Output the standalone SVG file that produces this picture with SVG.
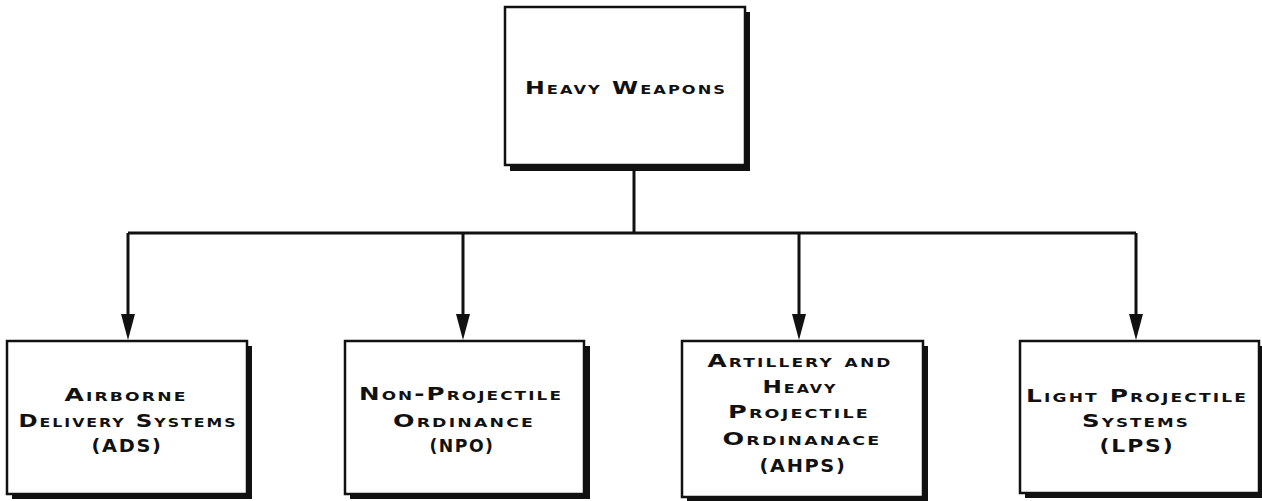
<svg xmlns="http://www.w3.org/2000/svg" width="1262" height="501" viewBox="0 0 1262 501">
<style>
.box{fill:#fff;stroke:#111;stroke-width:2.5}
.sh{fill:#111}
.t{font-family:"DejaVu Sans","Liberation Sans",sans-serif;font-weight:bold;font-variant:small-caps;font-size:17.5px;letter-spacing:1.5px;text-anchor:middle;fill:#111}
.c{stroke:#111;stroke-width:3;fill:none}
.ah{fill:#111}
</style>
<g id="connectors">
<path class="c" d="M634,170 V233"/>
<path class="c" d="M128,233 H1136"/>
<path class="c" d="M128,233 V320"/>
<path class="c" d="M463,233 V320"/>
<path class="c" d="M799,233 V320"/>
<path class="c" d="M1136,233 V320"/>
<path class="ah" d="M121,314 L135,314 L128,340 Z"/>
<path class="ah" d="M456,314 L470,314 L463,340 Z"/>
<path class="ah" d="M792,314 L806,314 L799,340 Z"/>
<path class="ah" d="M1129,314 L1143,314 L1136,340 Z"/>
</g>
<g id="heavy-weapons">
<rect class="sh" x="510" y="12" width="240" height="159"/>
<rect class="box" x="505" y="7" width="240" height="158"/>
<text class="t" x="626" y="94" textLength="202" lengthAdjust="spacingAndGlyphs">Heavy Weapons</text>
</g>
<g id="ads">
<rect class="sh" x="12" y="346" width="240" height="153"/>
<rect class="box" x="7" y="341" width="240" height="153"/>
<text class="t" x="126" y="401" textLength="123" lengthAdjust="spacingAndGlyphs">Airborne</text>
<text class="t" x="128" y="427" textLength="219" lengthAdjust="spacingAndGlyphs">Delivery Systems</text>
<text class="t" x="127" y="452" textLength="71" lengthAdjust="spacingAndGlyphs">(ADS)</text>
</g>
<g id="npo">
<rect class="sh" x="350" y="346" width="240" height="153"/>
<rect class="box" x="345" y="341" width="239" height="153"/>
<text class="t" x="461" y="400" textLength="204" lengthAdjust="spacingAndGlyphs">Non-Projectile</text>
<text class="t" x="464" y="427" textLength="142" lengthAdjust="spacingAndGlyphs">Ordinance</text>
<text class="t" x="462" y="452" textLength="65" lengthAdjust="spacingAndGlyphs">(NPO)</text>
</g>
<g id="ahps">
<rect class="sh" x="687" y="346" width="241" height="155"/>
<rect class="box" x="682" y="341" width="241" height="156"/>
<text class="t" x="800" y="367" textLength="185" lengthAdjust="spacingAndGlyphs">Artillery and</text>
<text class="t" x="800" y="393" textLength="75" lengthAdjust="spacingAndGlyphs">Heavy</text>
<text class="t" x="799" y="418" textLength="142" lengthAdjust="spacingAndGlyphs">Projectile</text>
<text class="t" x="802" y="445" textLength="159" lengthAdjust="spacingAndGlyphs">Ordinanace</text>
<text class="t" x="803" y="472" textLength="87" lengthAdjust="spacingAndGlyphs">(AHPS)</text>
</g>
<g id="lps">
<rect class="sh" x="1025" y="346" width="237" height="152"/>
<rect class="box" x="1020" y="341" width="239" height="152"/>
<text class="t" x="1137" y="402" textLength="222" lengthAdjust="spacingAndGlyphs">Light Projectile</text>
<text class="t" x="1136" y="427" textLength="108" lengthAdjust="spacingAndGlyphs">Systems</text>
<text class="t" x="1137" y="452" textLength="75" lengthAdjust="spacingAndGlyphs">(LPS)</text>
</g>
</svg>
